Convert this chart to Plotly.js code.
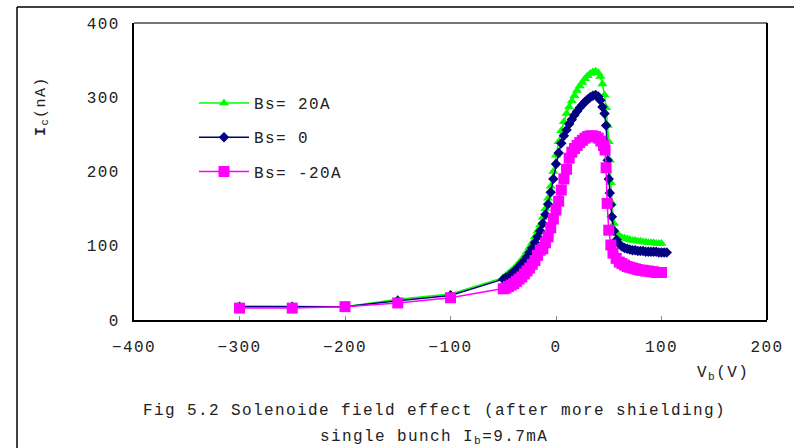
<!DOCTYPE html>
<html><head><meta charset="utf-8">
<script src="https://cdn.plot.ly/plotly-3.0.1.min.js"></script>
<style>
html,body{margin:0;padding:0;background:#fff;}
#chart{width:794px;height:448px;}
text{letter-spacing:1.4px;}
</style></head><body><div id="chart"></div>
<script>
const seriesNames = ['Bs= 20A', 'Bs= 0', 'Bs= -20A'];

const xGreen = [-300,-250,-200,-150,-100,-50,-47.5,-45,-42.5,-40,-37.5,-35,-32.5,-30,-27.5,-25,-22.5,-20,-17.5,-15,-12.5,-10,-7.5,-5,-2.5,0,2.5,5,7.5,10,12.5,15,17.5,20,22.5,25,27.5,30,32.5,35,37.5,40,42,44,46,47.5,49,50,51,52,53,55,57.5,60,62.5,65,67.5,70,72.5,75,77.5,80,82.5,85,87.5,90,92.5,95,97.5,100];
const yGreen = [19,18,18,28,35,57,60,63,66,69,73,77,81,86,92,98,104,112,120,128,138,150,164,180,200,222,240,255,267,278,287,295,302,309,315,320,325,329,332,334,335,333,328,318,303,286,262,240,215,185,158,130,118,113,111,110,109,108,107,107,106,106,105,105,104,104,104,103,103,103];

const xNavy = [-300,-250,-200,-150,-100,-50,-47.5,-45,-42.5,-40,-37.5,-35,-32.5,-30,-27.5,-25,-22.5,-20,-17.5,-15,-12.5,-10,-7.5,-5,-2.5,0,2.5,5,7.5,10,12.5,15,17.5,20,22.5,25,27.5,30,32.5,35,37.5,40,42,44,46,47.5,49,50,51,52,53,55,57.5,60,62.5,65,67.5,70,72.5,75,77.5,80,82.5,85,87.5,90,92.5,95,97.5,100,102.5,105];
const yNavy = [18,18,18,26,33,55,57,59,62,65,68,72,76,80,85,91,97,104,112,120,130,142,156,172,190,210,225,238,248,256,264,270,276,281,286,290,294,297,300,302,303,301,296,287,278,262,215,190,171,155,139,120,108,102,99,97,96,95,94,94,93,93,93,92,92,92,92,92,91,91,91,91];

const xMagenta = [-300,-250,-200,-150,-100,-50,-47.5,-45,-42.5,-40,-37.5,-35,-32.5,-30,-27.5,-25,-22.5,-20,-17.5,-15,-12.5,-10,-7.5,-5,-2.5,0,2.5,5,7.5,10,12.5,15,17.5,20,22.5,25,27.5,30,32.5,35,37.5,40,42.5,45,46.5,47.5,48.5,50,52,54,57,60,62.5,65,67.5,70,72.5,75,77.5,80,82.5,85,87.5,90,92.5,95,97.5,100];
const yMagenta = [16,16,18,23,30,42,43,45,47,49,52,55,58,62,66,70,75,80,87,94,96,104,112,124,136,148,160,175,190,203,218,226,231,235,239,242,245,247,248,248,247,245,241,235,229,205,157,121,101,90,83,78,76,74,72,71,70,69,68,67,67,66,66,65,65,64,64,64];

const xTickVals = [-400,-300,-200,-100,0,100,200];
const yTickVals = [0,100,200,300,400];

const FONT = '"Liberation Mono", "DejaVu Sans Mono", monospace';

const traces = [
  {x: xGreen, y: yGreen, name: seriesNames[0], legendgroup: 'g1', mode: 'lines+markers',
   line: {color: '#00FF00', width: 1.5}, marker: {symbol: 'triangle-up', size: 9, color: '#00FF00'}},
  {x: xNavy, y: yNavy, name: seriesNames[1], legendgroup: 'g2', mode: 'lines+markers',
   line: {color: '#000080', width: 1.5}, marker: {symbol: 'diamond', size: 8, color: '#000080'}},
  {x: xMagenta, y: yMagenta, name: seriesNames[2], legendgroup: 'g3', mode: 'lines+markers',
   line: {color: '#FF00FF', width: 1.5}, marker: {symbol: 'square', size: 11, color: '#FF00FF'}}
];

const L = 134, R = 767, T = 23, B = 320;
const px = v => (v - L) / (R - L);
const py = v => (B - v) / (B - T);

const layout = {
  width: 794, height: 448,
  margin: {l: L, r: 794 - R, t: T, b: 448 - B, pad: 0},
  paper_bgcolor: '#fff', plot_bgcolor: '#fff',
  font: {family: FONT, size: 16, color: '#222'},
  showlegend: true,
  legend: {x: px(194), y: py(86), xanchor: 'left', yanchor: 'top', bgcolor: 'rgba(0,0,0,0)',
           font: {family: FONT, size: 16, color: '#222'}, tracegroupgap: 10.5, itemwidth: 50},
  xaxis: {range: [-400, 200], tickvals: xTickVals, ticks: 'inside', ticklen: 4, tickwidth: 1, tickcolor: '#888',
          showline: true, linecolor: '#000', linewidth: 2, showgrid: false, zeroline: false,
          ticklabelstandoff: 11, tickfont: {family: FONT, size: 16, color: '#222'}},
  yaxis: {range: [0, 400], tickvals: yTickVals, ticks: '', showline: true, linecolor: '#000', linewidth: 2,
          showgrid: false, zeroline: false, ticklabelstandoff: 9, tickfont: {family: FONT, size: 16, color: '#222'}},
  shapes: [
    {type: 'line', xref: 'paper', yref: 'paper', x0: 0, x1: 1, y0: 1, y1: 1, line: {color: '#777', width: 2}},
    {type: 'line', xref: 'paper', yref: 'paper', x0: 1, x1: 1, y0: 0, y1: 1, line: {color: '#000', width: 2}},
    {type: 'line', xref: 'paper', yref: 'paper', x0: px(17), x1: px(17), y0: py(7), y1: py(460), line: {color: '#000', width: 1.5}},
    {type: 'line', xref: 'paper', yref: 'paper', x0: px(17), x1: px(800), y0: py(7), y1: py(7), line: {color: '#000', width: 1.5}}
  ],
  annotations: [
    {xref: 'paper', yref: 'paper', x: px(42), y: py(106), text: '<b>I</b><sub>c</sub>(nA)', textangle: -90,
     showarrow: false, xanchor: 'center', yanchor: 'middle', font: {family: FONT, size: 15, color: '#222'}},
    {xref: 'paper', yref: 'paper', x: px(723), y: py(373), text: 'V<sub>b</sub>(V)',
     showarrow: false, xanchor: 'center', yanchor: 'middle', font: {family: FONT, size: 16, color: '#222'}},
    {xref: 'paper', yref: 'paper', x: px(434), y: py(411), text: 'Fig 5.2 Solenoide field effect (after more shielding)',
     showarrow: false, xanchor: 'center', yanchor: 'middle', font: {family: FONT, size: 16, color: '#222'}},
    {xref: 'paper', yref: 'paper', x: px(434), y: py(437), text: 'single bunch I<sub>b</sub>=9.7mA',
     showarrow: false, xanchor: 'center', yanchor: 'middle', font: {family: FONT, size: 16, color: '#222'}}
  ]
};

Plotly.newPlot('chart', traces, layout, {staticPlot: true, displayModeBar: false});
</script></body></html>
